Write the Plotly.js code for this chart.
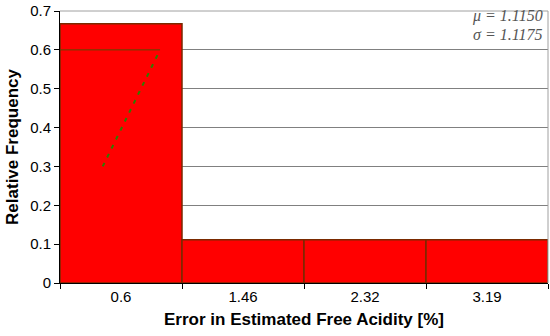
<!DOCTYPE html>
<html>
<head>
<meta charset="utf-8">
<script src="https://cdn.plot.ly/plotly-3.0.1.min.js"></script>
<style>
  html, body { margin: 0; padding: 0; background: #fff; }
  #chart { width: 550px; height: 336px; }
</style>
</head>
<body>
<div id="chart"></div>
<script>
const binLabels = ["0.6", "1.46", "2.32", "3.19"];
const binPos = [0, 1, 2, 3];
const relFreq = [0.667, 0.111, 0.111, 0.111];

// leftover pieces of the fitted curve seen inside the first bar
const fitX = [-0.15, 0.32];
const fitY = [0.30, 0.60];
const capX = [-0.5, 0.32];
const capY = [0.60, 0.60];

const statLines = ["<i>μ = 1.1150</i>", "<i>σ = 1.1175</i>"];
const statY = [0.983, 0.915];

const data = [
    {
        x: binPos,
        y: relFreq,
        type: "bar",
        width: 1,
        marker: { color: "#ff0000", line: { color: "#7a2a00", width: 1.5 } },
        hoverinfo: "y"
    },
    {
        x: capX,
        y: capY,
        type: "scatter",
        mode: "lines",
        line: { color: "#5a4a00", width: 1 },
        hoverinfo: "skip"
    },
    {
        x: fitX,
        y: fitY,
        type: "scatter",
        mode: "lines",
        line: { color: "#2e7d00", width: 2, dash: "4px,6px" },
        hoverinfo: "skip"
    }
];

const layout = {
    width: 550,
    height: 336,
    margin: { l: 60, r: 2, t: 11, b: 53 },
    paper_bgcolor: "#fff",
    plot_bgcolor: "#fff",
    showlegend: false,
    font: { family: "Arial, 'Liberation Sans', sans-serif", color: "#000", size: 15 },
    xaxis: {
        range: [-0.5, 3.5],
        tickvals: binPos,
        ticktext: binLabels,
        ticks: "",
        showgrid: false,
        zeroline: false,
        showline: true,
        linecolor: "#000",
        mirror: false,
        tickfont: { size: 15 },
        minor: { tickmode: "linear", tick0: -0.5, dtick: 1, ticks: "outside", ticklen: 5, tickcolor: "#000", showgrid: false },
        title: { text: "Error in Estimated Free Acidity [%]", font: { size: 17, weight: "bold" }, standoff: 9 }
    },
    yaxis: {
        range: [0, 0.7],
        dtick: 0.1,
        tickformat: ".1~f",
        ticks: "outside",
        ticklen: 5,
        tickcolor: "#000",
        showgrid: true,
        gridcolor: "#808080",
        gridwidth: 1,
        zeroline: false,
        showline: true,
        linecolor: "#000",
        tickfont: { size: 15 },
        title: { text: "Relative Frequency", font: { size: 17, weight: "bold" }, standoff: 7 }
    },
    shapes: [
        { type: "line", xref: "paper", yref: "paper", x0: 0, x1: 1, y0: 1, y1: 1, line: { color: "#a0a0a0", width: 1 } },
        { type: "line", xref: "paper", yref: "paper", x0: 1, x1: 1, y0: 0, y1: 1, line: { color: "#a0a0a0", width: 1 } }
    ],
    annotations: statLines.map(function(t, i) {
        return {
            xref: "paper", yref: "paper", x: 0.992, y: statY[i],
            xanchor: "right", yanchor: "middle", align: "right",
            text: t, showarrow: false, borderpad: 0,
            font: { family: "'Liberation Serif', 'Times New Roman', serif", size: 16, color: "#555" }
        };
    })
};

Plotly.newPlot("chart", data, layout, { displayModeBar: false });
</script>
</body>
</html>
